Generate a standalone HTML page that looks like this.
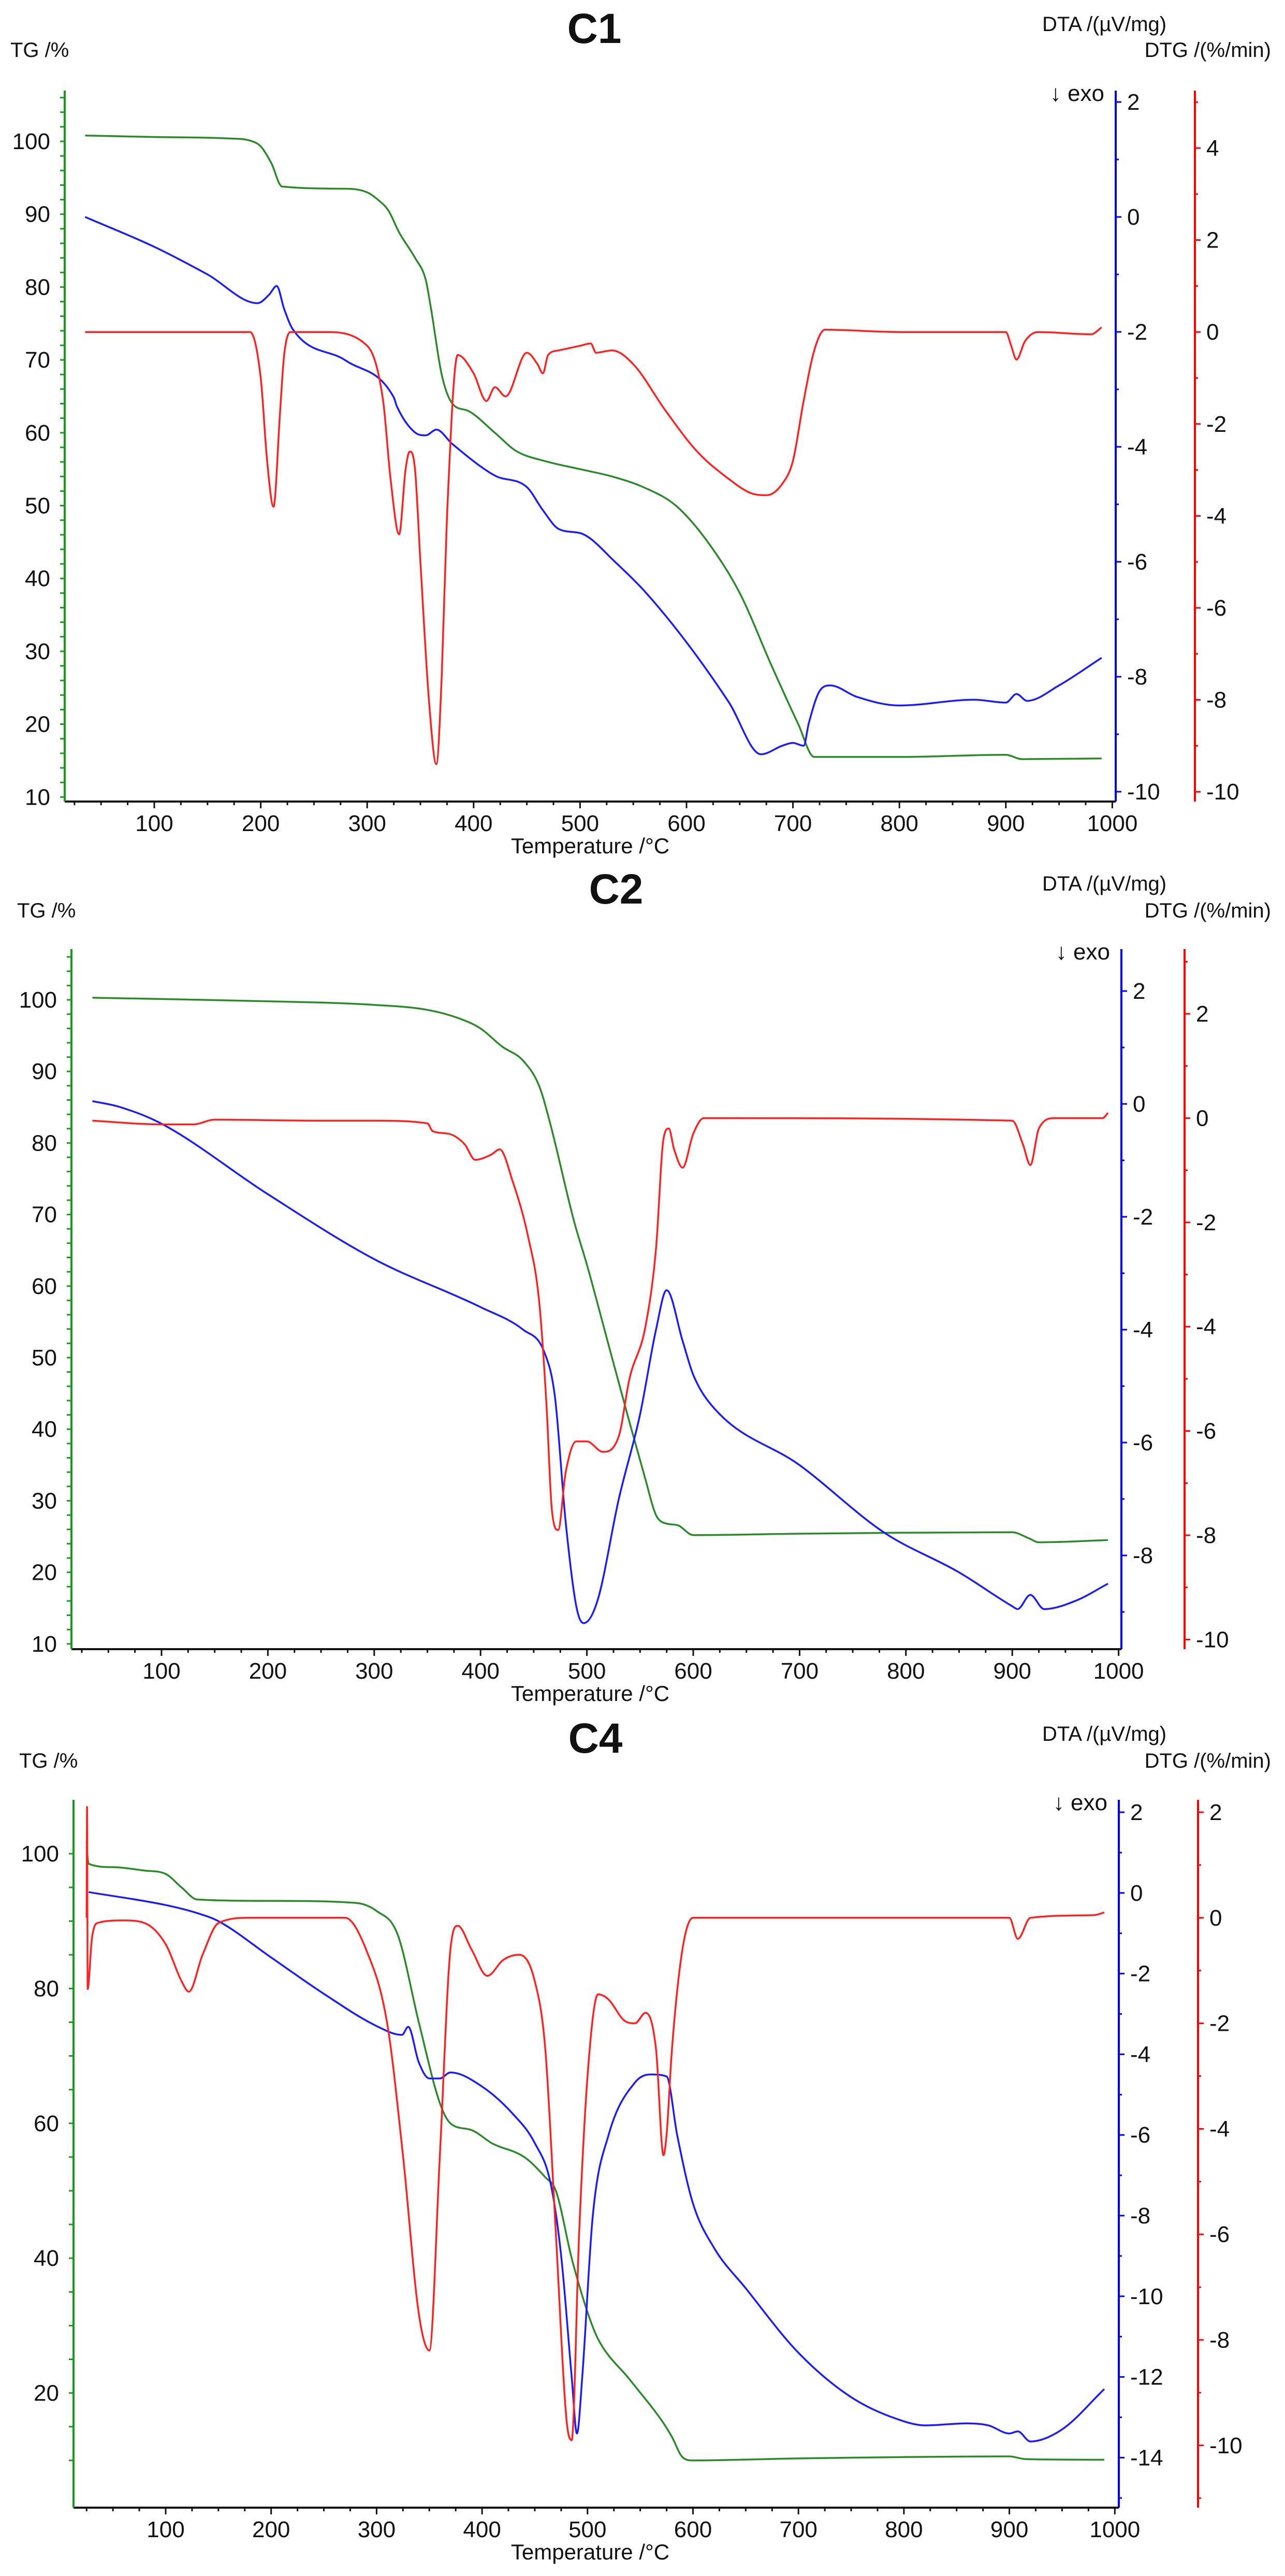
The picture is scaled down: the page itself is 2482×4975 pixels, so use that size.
<!DOCTYPE html>
<html><head><meta charset="utf-8">
<style>
html,body{margin:0;padding:0;background:#fff;}
svg{display:block;font-family:"Liberation Sans",Arial,sans-serif;}
</style></head>
<body>
<svg id="fig" width="2482" height="4975" viewBox="0 0 2482 4975" xmlns="http://www.w3.org/2000/svg"></svg>
<script>
// ---------- data: C1 ----------
const c1TgT   = [35,100,170,190,200,210,220,280,300,310,320,330,345,355,360,370,380,395,420,440,470,500,530,560,590,620,650,680,705,720,800,900,915,990];
const c1TgV   = [100.8,100.6,100.4,100.1,99.3,97,93.8,93.5,93.0,92,90.5,87.5,84,81,77,68,64,63,60,57.5,56,55,54,52.5,50,45,38,28,20,15.5,15.5,15.8,15.2,15.3];
const c1DtaT  = [35,100,150,197,208,215,222,230,280,325,328,345,355,365,380,420,450,465,480,500,510,530,560,600,640,670,690,700,710,715,725,735,760,800,870,900,910,920,950,990];
const c1DtaV  = [0,-0.52,-1.0,-1.5,-1.35,-1.2,-1.6,-1.95,-2.5,-3.14,-3.3,-3.75,-3.8,-3.7,-3.95,-4.5,-4.7,-5.1,-5.43,-5.5,-5.6,-5.95,-6.5,-7.4,-8.45,-9.35,-9.2,-9.15,-9.2,-8.8,-8.25,-8.15,-8.35,-8.5,-8.4,-8.45,-8.3,-8.42,-8.15,-7.67];
const c1DtgT  = [35,190,200,206,212,218,222,228,260,300,315,322,330,336,340,345,350,358,365,370,375,385,400,412,420,430,450,460,465,470,480,500,510,515,530,550,580,610,640,660,675,690,700,710,720,730,800,900,905,910,918,930,980,990];
const c1DtgV  = [0,0,-1,-2.8,-3.8,-1.8,-0.5,0,0,-0.3,-1.5,-3.2,-4.4,-3.0,-2.6,-3.0,-5,-8.0,-9.4,-7.5,-4,-0.5,-0.9,-1.5,-1.2,-1.4,-0.45,-0.7,-0.9,-0.5,-0.4,-0.3,-0.25,-0.45,-0.4,-0.7,-1.7,-2.6,-3.2,-3.5,-3.55,-3.3,-2.8,-1.5,-0.4,0.05,0,0,-0.3,-0.6,-0.2,0,-0.05,0.1];
// ---------- data: C2 ----------
const c2TgT   = [35,200,300,350,380,400,420,440,455,465,488,500,520,540,555,565,575,585,600,700,900,915,925,990];
const c2TgV   = [100.3,99.8,99.3,98.6,97.4,96,93.5,91.5,88,83,69,63,52,41,33,28,26.8,26.6,25.2,25.4,25.6,24.8,24.2,24.5];
const c2DtaT  = [35,60,100,200,300,400,440,460,470,480,490,497,510,530,550,565,575,590,600,620,700,780,850,900,905,917,930,960,990];
const c2DtaV  = [0.05,-0.05,-0.35,-1.6,-2.75,-3.6,-4.0,-4.4,-5.2,-7.4,-8.9,-9.2,-8.8,-7,-5.5,-4,-3.3,-4.2,-4.8,-5.4,-6.4,-7.6,-8.3,-8.9,-8.95,-8.7,-8.95,-8.8,-8.5];
const c2DtgT  = [35,100,130,150,250,300,350,355,370,385,395,410,418,430,445,455,462,467,473,480,490,500,515,530,540,555,565,572,577,582,590,600,610,900,910,917,925,940,985,990];
const c2DtgV  = [-0.05,-0.12,-0.12,-0.03,-0.05,-0.05,-0.1,-0.25,-0.3,-0.5,-0.8,-0.7,-0.6,-1.2,-2.3,-3.5,-5.5,-7.5,-7.9,-6.8,-6.2,-6.2,-6.4,-6.1,-5,-4,-2.5,-0.4,-0.2,-0.6,-0.95,-0.3,0,-0.05,-0.5,-0.9,-0.2,0,0,0.1];
// ---------- data: C4 ----------
const c4TgT   = [25,27,50,80,100,115,130,200,280,300,320,340,360,370,390,410,440,460,470,485,500,510,540,570,580,590,600,700,900,915,990];
const c4TgV   = [101,98.5,98,97.5,97,95,93.2,93,92.7,91.5,88,75,63,60,59,57,55,52,50,40,32,28,22,16,13.5,10.5,10,10.3,10.6,10.2,10.1];
const c4DtaT  = [27,100,130,150,200,250,300,324,330,340,350,360,370,400,430,450,465,475,485,490,495,505,520,545,560,575,585,600,620,650,700,750,800,820,860,880,900,908,920,950,990];
const c4DtaV  = [0.02,-0.3,-0.5,-0.7,-1.6,-2.5,-3.3,-3.52,-3.32,-4.2,-4.6,-4.6,-4.45,-4.8,-5.5,-6.2,-7.2,-9,-12,-13.4,-12,-8,-6,-4.7,-4.5,-4.55,-6,-7.7,-8.8,-9.8,-11.4,-12.5,-13.1,-13.2,-13.15,-13.2,-13.4,-13.35,-13.6,-13.3,-12.3];
const c4DtgT  = [25,25.5,26,30,35,60,80,100,115,122,135,150,180,270,290,310,325,340,350,360,370,377,390,405,420,435,450,460,470,480,485,492,500,510,520,535,545,555,565,572,575,580,590,600,700,900,908,920,980,990];
const c4DtgV  = [0,2.1,-1.35,-0.4,-0.1,-0.05,-0.1,-0.5,-1.2,-1.4,-0.7,-0.1,0,0,-0.6,-2,-4.5,-7.5,-8.2,-4.5,-0.6,-0.15,-0.6,-1.1,-0.8,-0.7,-1.2,-2.5,-6,-9.5,-9.9,-6,-3,-1.45,-1.55,-1.95,-2,-1.8,-2.5,-4.5,-4.1,-2.5,-0.6,0,0,0,-0.4,0,0.05,0.1];

// tick labels
const xTickLabels = [100,200,300,400,500,600,700,800,900,1000];
const c1TgTicks = [10,20,30,40,50,60,70,80,90,100];
const c1DtaTicks = [2,0,-2,-4,-6,-8,-10];
const c1DtgTicks = [4,2,0,-2,-4,-6,-8,-10];
const c2TgTicks = [10,20,30,40,50,60,70,80,90,100];
const c2DtaTicks = [2,0,-2,-4,-6,-8];
const c2DtgTicks = [2,0,-2,-4,-6,-8,-10];
const c4TgTicks = [20,40,60,80,100];
const c4DtaTicks = [2,0,-2,-4,-6,-8,-10,-12,-14];
const c4DtgTicks = [2,0,-2,-4,-6,-8,-10];

const NS='http://www.w3.org/2000/svg';
const svg=document.getElementById('fig');
function mk(tag,attrs,parent){const e=document.createElementNS(NS,tag);for(const k in attrs)e.setAttribute(k,attrs[k]);(parent||svg).appendChild(e);return e;}
function txt(s,x,y,size,anchor,parent,weight){const e=mk('text',{x:x,y:y,'font-size':size,'text-anchor':anchor||'start',fill:'#111','font-weight':weight||'normal'},parent);e.textContent=s;return e;}

// monotone cubic path through pixel points
function monoPath(px,py){
  const n=px.length;if(n<2)return '';
  const dx=[],s=[];
  for(let i=0;i<n-1;i++){dx[i]=px[i+1]-px[i];s[i]=dx[i]?(py[i+1]-py[i])/dx[i]:0;}
  const m=[s[0]];
  for(let i=1;i<n-1;i++){m[i]=(s[i-1]*s[i]<=0)?0:(s[i-1]+s[i])/2;}
  m[n-1]=s[n-2];
  for(let i=0;i<n-1;i++){
    if(s[i]===0){m[i]=0;m[i+1]=0;continue;}
    const a=m[i]/s[i],b=m[i+1]/s[i],h=a*a+b*b;
    if(h>9){const t=3/Math.sqrt(h);m[i]=t*a*s[i];m[i+1]=t*b*s[i];}
  }
  let d='M'+px[0].toFixed(1)+','+py[0].toFixed(1);
  for(let i=0;i<n-1;i++){
    const h=dx[i]/3;
    d+=' C'+(px[i]+h).toFixed(1)+','+(py[i]+m[i]*h).toFixed(1)+' '+(px[i+1]-h).toFixed(1)+','+(py[i+1]-m[i+1]*h).toFixed(1)+' '+px[i+1].toFixed(1)+','+py[i+1].toFixed(1);
  }
  return d;
}

function panel(cfg){
  const g=mk('g',{});
  
  
  const X=t=>cfg.x100+(t-100)*cfg.pxT;
  const YT=v=>cfg.tg100-(v-100)*cfg.pxTg;
  const YA=v=>cfg.dta0-v*cfg.pxDta;
  const YG=v=>cfg.dtg0-v*cfg.pxDtg;
  let e=txt(cfg.name,cfg.titleX,cfg.titleY,82,'middle',g,'bold');
  
  e=txt('TG /%',cfg.gx-105,cfg.tgLabY,40,'start',g);
  
  e=txt('DTA /(µV/mg)',2013,cfg.dtaLabY,40,'start',g);
  
  e=txt('DTG /(%/min)',2455,cfg.tgLabY,40,'end',g);
  
  e=txt('↓ exo',cfg.bx-22,cfg.top+20,44,'end',g);
  
  e=txt('Temperature /°C',1140,cfg.bottom+100,42,'middle',g);
  
  const xa=mk('g',{},g);
  
  mk('line',{x1:cfg.gx,y1:cfg.bottom,x2:cfg.bx,y2:cfg.bottom,stroke:'#111','stroke-width':4},xa);
  for(let t=25;t<=1000;t+=25){const x=X(t);if(x<cfg.gx+3)continue;mk('line',{x1:x,y1:cfg.bottom,x2:x,y2:cfg.bottom+(t%100===0?13:7),stroke:'#111','stroke-width':3},xa);}
  xTickLabels.forEach(t=>{txt(String(t),X(t),cfg.bottom+57,44,'middle',xa);});
  const ga=mk('g',{},g);
  
  mk('line',{x1:cfg.gx,y1:cfg.top,x2:cfg.gx,y2:cfg.bottom,stroke:'#1a9a1a','stroke-width':4},ga);
  for(let v=cfg.tgMin;v<=cfg.tgMax;v+=cfg.tgMinor){const y=YT(v);if(y>cfg.bottom||y<cfg.top)continue;mk('line',{x1:cfg.gx,y1:y,x2:cfg.gx-9,y2:y,stroke:'#1a9a1a','stroke-width':3},ga);}
  cfg.tgTicks.forEach(v=>{txt(String(v),cfg.gx-28,YT(v)+15,44,'end',ga);});
  const ba=mk('g',{},g);
  
  mk('line',{x1:cfg.bx,y1:cfg.top,x2:cfg.bx,y2:cfg.bottom,stroke:'#0000ff','stroke-width':4},ba);
  for(let v=cfg.dtaMin;v<=cfg.dtaMax;v+=1){const y=YA(v);if(y>cfg.bottom||y<cfg.top)continue;mk('line',{x1:cfg.bx,y1:y,x2:cfg.bx+(v%2===0?11:6),y2:y,stroke:'#0000ff','stroke-width':3},ba);}
  cfg.dtaTicks.forEach(v=>{txt(v<0?'-'+(-v):String(v),cfg.bx+22,YA(v)+15,44,'start',ba);});
  const ra=mk('g',{},g);
  
  mk('line',{x1:cfg.rx,y1:cfg.top,x2:cfg.rx,y2:cfg.bottom,stroke:'#ff0000','stroke-width':4},ra);
  for(let v=cfg.dtgMin;v<=cfg.dtgMax;v+=1){const y=YG(v);if(y>cfg.bottom||y<cfg.top)continue;mk('line',{x1:cfg.rx,y1:y,x2:cfg.rx+(v%2===0?11:6),y2:y,stroke:'#ff0000','stroke-width':3},ra);}
  cfg.dtgTicks.forEach(v=>{txt(v<0?'-'+(-v):String(v),cfg.rx+22,YG(v)+15,44,'start',ra);});
  function line(ts,vs,yf,color,nm){
    const d=monoPath(ts.map(X),vs.map(yf));
    const p=mk('path',{d:d,fill:'none',stroke:color,'stroke-width':3.5,'stroke-linejoin':'round'},g);
    
    
  }
  line(cfg.tgT,cfg.tgV,YT,'#2a8a2a','tg-curve');
  line(cfg.dtaT,cfg.dtaV,YA,'#1a1aff','dta-curve');
  line(cfg.dtgT,cfg.dtgV,YG,'#ff2020','dtg-curve');
}

panel({name:'C1',titleX:1148,titleY:83,tgLabY:110,dtaLabY:60,
  gx:125,bx:2155,rx:2308,top:175,bottom:1548,
  x100:298,pxT:2.056,tg100:273,pxTg:14.07,dta0:197+2*111,pxDta:111,dtg0:286+4*88.8,pxDtg:88.8,
  tgMin:10,tgMax:106,tgMinor:2,dtaMin:-10,dtaMax:2,dtgMin:-11,dtgMax:5,
  tgTicks:c1TgTicks,dtaTicks:c1DtaTicks,dtgTicks:c1DtgTicks,
  tgT:c1TgT,tgV:c1TgV,dtaT:c1DtaT,dtaV:c1DtaV,dtgT:c1DtgT,dtgV:c1DtgV});

panel({name:'C2',titleX:1190,titleY:1745,tgLabY:1772,dtaLabY:1720,
  gx:138,bx:2166,rx:2288,top:1833,bottom:3185,
  x100:312,pxT:2.054,tg100:1931,pxTg:13.82,dta0:1914+2*109,pxDta:109,dtg0:1958+2*100.7,pxDtg:100.7,
  tgMin:10,tgMax:106,tgMinor:2,dtaMin:-9,dtaMax:2,dtgMin:-10,dtgMax:3,
  tgTicks:c2TgTicks,dtaTicks:c2DtaTicks,dtgTicks:c2DtgTicks,
  tgT:c2TgT,tgV:c2TgV,dtaT:c2DtaT,dtaV:c2DtaV,dtgT:c2DtgT,dtgV:c2DtgV});

panel({name:'C4',titleX:1150,titleY:3385,tgLabY:3414,dtaLabY:3362,
  gx:142,bx:2161,rx:2314,top:3476,bottom:4843,
  x100:320,pxT:2.037,tg100:3580,pxTg:13.02,dta0:3500+2*77.9,pxDta:77.9,dtg0:3500+2*101.9,pxDtg:101.9,
  tgMin:10,tgMax:100,tgMinor:5,dtaMin:-15,dtaMax:2,dtgMin:-11,dtgMax:2,
  tgTicks:c4TgTicks,dtaTicks:c4DtaTicks,dtgTicks:c4DtgTicks,
  tgT:c4TgT,tgV:c4TgV,dtaT:c4DtaT,dtaV:c4DtaV,dtgT:c4DtgT,dtgV:c4DtgV});
</script>
</body></html>
